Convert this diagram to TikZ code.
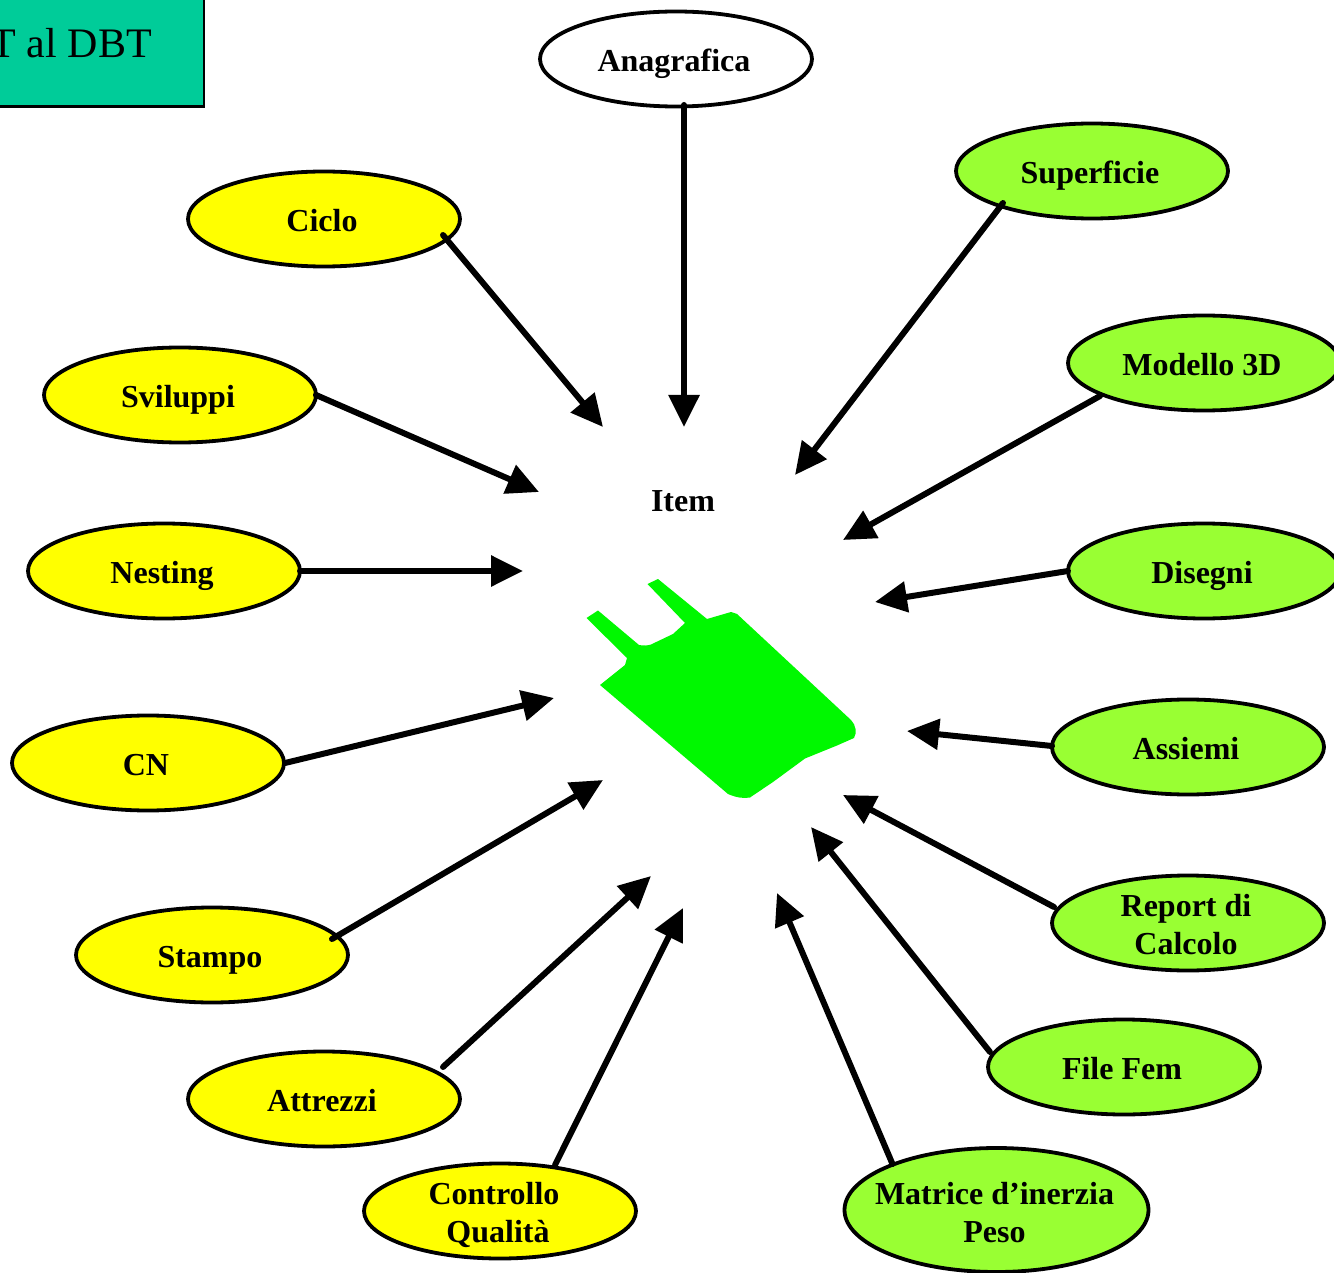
\documentclass[tikz,border=0pt]{standalone}
\usepackage{fontspec}
\setmainfont{Liberation Serif}
\usetikzlibrary{shapes.geometric,arrows.meta}
\definecolor{teal}{HTML}{00CC99}
\definecolor{lime}{HTML}{99FF33}
\definecolor{yel}{HTML}{FFFF00}
\definecolor{part}{HTML}{00F800}
\tikzset{
  x=1pt,y=-1pt,
  itemtext/.style={inner sep=0pt,align=center,text=black,font=\fontsize{32pt}{38pt}\selectfont\bfseries},
  item/.style={ellipse,draw=black,line width=3.8pt,minimum width=272pt,minimum height=95pt,inner sep=0pt},
  white item/.style={item,fill=white},
  yellow item/.style={item,fill=yel},
  green item/.style={item,fill=lime},
  lab/.style n args={3}{label={[itemtext,xshift=#1,yshift=#2]center:#3}},
  link/.style={draw=black,line width=6pt,line cap=round,-{Triangle[length=32pt,width=30pt]}},
}
\begin{document}
\begin{tikzpicture}
\useasboundingbox (0,0) rectangle (1334,1273);
\path[fill=white] (0,0) rectangle (1334,1273);
% title box
\draw[fill=teal,draw=black,line width=2.5pt] (-10,-10) rectangle (204,106.5);
\node[anchor=base east,inner sep=0pt,font=\fontsize{42pt}{46pt}\selectfont] (title) at (152,58) {T al DBT};
% part
\fill[part] (586.5,618) -- (598,610.5) -- (639,645) .. controls (644,646) and (648,645.5) .. (651,644.5) -- (673,634)
 -- (685,623) -- (647.5,584) -- (658,579) -- (707,619) -- (731,612) -- (737,614) -- (851,720)
 .. controls (856,725) and (857,733) .. (854,738) -- (837,745.5) -- (805,758.5) -- (773,782) -- (750,797.5)
 .. controls (744,798.5) and (737,798) .. (728,794) -- (600,685) -- (625,665) -- (627,658) -- cycle;
\node[itemtext] (itemlabel) at (683,501) {Item};
% nodes
\node[white item,lab={-2pt}{-5pt}{Anagrafica}] (anagrafica) at (676,59) {};
\node[green item,lab={-2pt}{-5pt}{Superficie}] (superficie) at (1092,171) {};
\node[green item,lab={-2pt}{-2pt}{Modello 3D}] (modello) at (1204,363) {};
\node[green item,lab={-2pt}{-5pt}{Disegni}] (disegni) at (1204,571) {};
\node[green item,lab={-2pt}{-2pt}{Assiemi}] (assiemi) at (1188,747) {};
\node[green item,lab={-2pt}{-2pt}{Report di\\Calcolo}] (report) at (1188,923) {};
\node[green item,lab={-2pt}{-2pt}{File Fem}] (filefem) at (1124,1067) {};
\node[green item,minimum width=304pt,minimum height=124pt,lab={-2pt}{-3pt}{Matrice d’inerzia\\Peso}] (matrice) at (996.5,1210) {};
\node[yellow item,lab={-2pt}{-4pt}{Controllo\hspace*{8pt}\\Qualità}] (controllo) at (500,1211) {};
\node[yellow item,lab={-2pt}{-2pt}{Attrezzi}] (attrezzi) at (324,1099) {};
\node[yellow item,lab={-2pt}{-5pt}{Stampo}] (stampo) at (212,955) {};
\node[yellow item,lab={-2pt}{-2pt}{CN}] (cn) at (148,763) {};
\node[yellow item,lab={-2pt}{-5pt}{Nesting}] (nesting) at (164,571) {};
\node[yellow item,lab={-2pt}{-5pt}{Sviluppi}] (sviluppi) at (180,395) {};
\node[yellow item,lab={-2pt}{-2pt}{Ciclo}] (ciclo) at (324,219) {};
% tips
\coordinate (t1) at (684,427);
\coordinate (t2) at (795,475);
\coordinate (t3) at (843,540);
\coordinate (t4) at (875,602);
\coordinate (t5) at (907,731);
\coordinate (t6) at (843,795);
\coordinate (t7) at (811,827);
\coordinate (t8) at (777,893);
\coordinate (t9) at (683,908);
\coordinate (t10) at (651,876);
\coordinate (t11) at (603,780);
\coordinate (t12) at (554,698);
\coordinate (t13) at (523,571);
\coordinate (t14) at (539,492);
\coordinate (t15) at (603,427);
\draw[link] ([shift={(8,46)}]anagrafica.center) -- (t1);
\draw[link] ([shift={(-89,32)}]superficie.center) -- (t2);
\draw[link] ([shift={(-104,33)}]modello.center) -- (t3);
\draw[link] ([shift={(-136,0)}]disegni.center) -- (t4);
\draw[link] ([shift={(-136,-1)}]assiemi.center) -- (t5);
\draw[link] ([shift={(-134,-16)}]report.center) -- (t6);
\draw[link] ([shift={(-134,-15)}]filefem.center) -- (t7);
\draw[link] ([shift={(-104,-46)}]matrice.center) -- (t8);
\draw[link] ([shift={(55,-46)}]controllo.center) -- (t9);
\draw[link] ([shift={(119,-32)}]attrezzi.center) -- (t10);
\draw[link] ([shift={(120,-16)}]stampo.center) -- (t11);
\draw[link] ([shift={(137,0)}]cn.center) -- (t12);
\draw[link] ([shift={(136,0)}]nesting.center) -- (t13);
\draw[link] ([shift={(136,0)}]sviluppi.center) -- (t14);
\draw[link] ([shift={(119,16)}]ciclo.center) -- (t15);
\end{tikzpicture}
\end{document}
